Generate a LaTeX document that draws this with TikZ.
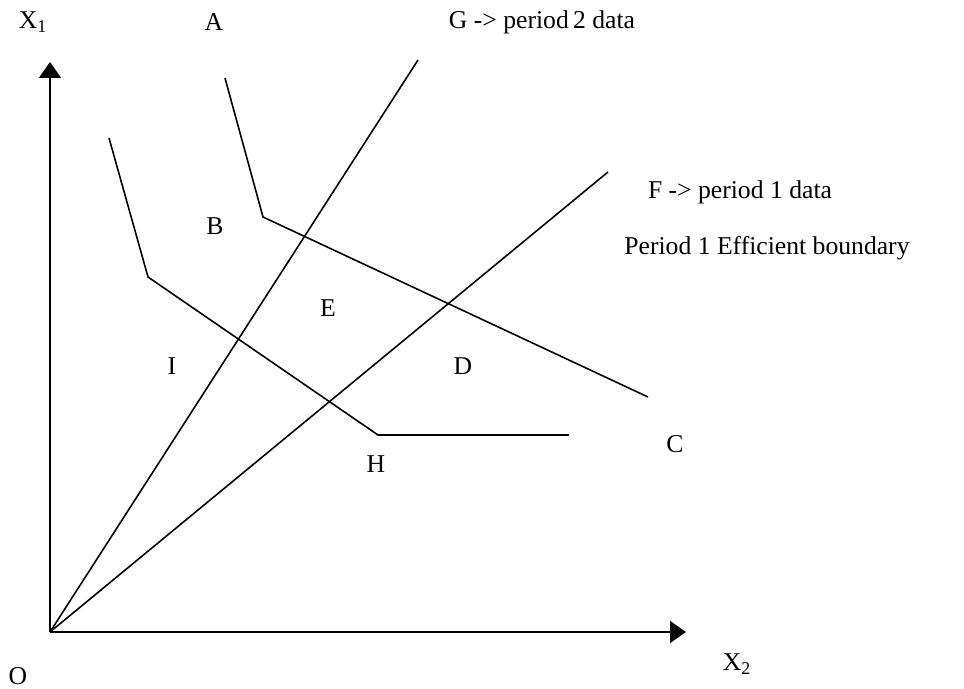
\documentclass[tikz,border=0pt]{standalone}
\usepackage{fontspec}
\setmainfont{Liberation Serif}
\usepackage{tikz}
\usetikzlibrary{arrows.meta,positioning}

\begin{document}
\begin{tikzpicture}[x=0.02cm,y=-0.02cm,line width=0.9pt,
 lbl/.style={inner sep=0pt,font=\fontsize{14.6}{16}\selectfont},
 axis/.style={-{Triangle[length=3.2mm,width=4.4mm]}}]
 \useasboundingbox (0,0) rectangle (964,689);
 % axes
 \coordinate (o) at (50,632);
 \coordinate (ytip) at (50,62);
 \coordinate (xtip) at (686,632);
 \draw[axis] (o) -- (ytip);
 \draw[axis] (o) -- (xtip);
 % rays through the data points
 \coordinate (g) at (418,60);
 \coordinate (f) at (608,172);
 \draw (o) -- (g);
 \draw (o) -- (f);
 % period 2 boundary
 \coordinate (a) at (225,78);
 \coordinate (b) at (263,217);
 \coordinate (c) at (648,397);
 \draw (a) -- (b) -- (c);
 % period 1 boundary
 \coordinate (p1) at (109,138);
 \coordinate (p2) at (148,277);
 \coordinate (p3) at (378,435);
 \coordinate (p4) at (569,435);
 \draw (p1) -- (p2) -- (p3) -- (p4);
 % labels
 \node[lbl] (xone) at (33,22) {X\textsubscript{1}};
 \node[lbl] (xtwo) at (737,664) {X\textsubscript{2}};
 \node[lbl] (orig) at (18,676) {O};
 \node[lbl] (la) at (214,22) {A};
 \node[lbl] (lg) at (542,22) {G -> period\,2 data};
 \node[lbl] (lf) at (740,192) {F -> period 1 data};
 \node[lbl] (lbound) at (767,248) {Period 1 Efficient boundary};
 \node[lbl] (lb) at (215,226) {B};
 \node[lbl] (le) at (328,308) {E};
 \node[lbl] (li) at (172,366) {I};
 \node[lbl] (ld) at (463,366) {D};
 \node[lbl] (lh) at (376,464) {H};
 \node[lbl] (lc) at (675,444) {C};
\end{tikzpicture}
\end{document}
